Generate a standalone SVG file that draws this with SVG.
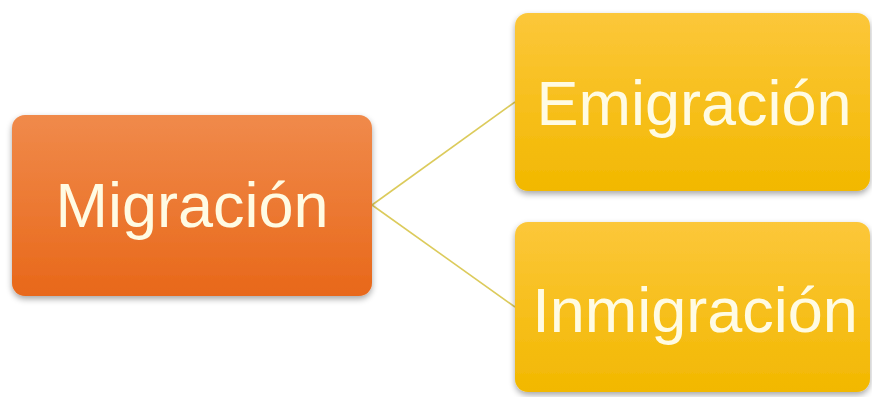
<svg xmlns="http://www.w3.org/2000/svg" width="872" height="397" viewBox="0 0 872 397">
<defs>
<linearGradient id="gOrange" x1="0" y1="0" x2="0" y2="1">
<stop offset="0" stop-color="#f08a4b"/>
<stop offset="1" stop-color="#e8681a"/>
</linearGradient>
<linearGradient id="gYellow" x1="0" y1="0" x2="0" y2="1">
<stop offset="0" stop-color="#fcc73a"/>
<stop offset="1" stop-color="#f2b800"/>
</linearGradient>
<filter id="shadow" x="-10%" y="-10%" width="120%" height="125%">
<feGaussianBlur in="SourceAlpha" stdDeviation="3"/>
<feOffset dx="0" dy="3" result="b"/>
<feComponentTransfer><feFuncA type="linear" slope="0.35"/></feComponentTransfer>
<feMerge><feMergeNode/><feMergeNode in="SourceGraphic"/></feMerge>
</filter>
</defs>
<style>
.lbl{font-family:"Liberation Sans",Arial,sans-serif;font-size:63px;fill:#fffbe3;text-anchor:middle}
.conn{stroke:#dccb5c;stroke-width:1.6;fill:none}
</style>
<rect width="872" height="397" fill="#ffffff"/>
<g id="connectors">
<line class="conn" x1="372" y1="205" x2="515" y2="102"/>
<line class="conn" x1="372" y1="205" x2="515" y2="307"/>
</g>
<g id="migracion">
<rect x="12" y="115" width="360" height="181" rx="13" fill="url(#gOrange)" filter="url(#shadow)"/>
<text class="lbl" x="192" y="227">Migración</text>
</g>
<g id="emigracion">
<rect x="515" y="13" width="355" height="178" rx="13" fill="url(#gYellow)" filter="url(#shadow)"/>
<text class="lbl" x="694" y="125">Emigración</text>
</g>
<g id="inmigracion">
<rect x="515" y="222" width="355" height="170" rx="13" fill="url(#gYellow)" filter="url(#shadow)"/>
<text class="lbl" x="695" y="332">Inmigración</text>
</g>
</svg>
